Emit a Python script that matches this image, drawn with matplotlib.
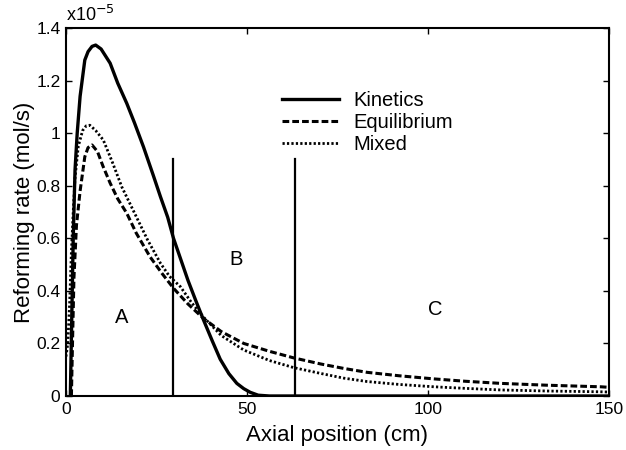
import numpy as np
import matplotlib.pyplot as plt
from matplotlib.ticker import FormatStrFormatter

plt.rcParams['font.family'] = ['Liberation Sans', 'DejaVu Sans']

# data (rates in units of 1e-5 mol/s)
kin_x = [1.2, 1.6, 2.0, 2.5, 3.1, 3.9, 5.2, 6.1, 7.2, 8.2, 9.7, 12.2, 14.3, 16.8, 18.9,
         21.4, 24.1, 26.1, 28.1, 29.7, 31.7, 33.7, 35.8, 38.0, 40.4, 42.6, 45.0, 47.2,
         49.1, 50.9, 53.1, 56.2, 61.3, 150.0]
kin_y = [0.0, 0.3, 0.6, 0.86, 1.0, 1.14, 1.278, 1.31, 1.33, 1.335, 1.32, 1.266, 1.19,
         1.113, 1.04, 0.948, 0.84, 0.758, 0.68, 0.60, 0.52, 0.44, 0.365, 0.289, 0.21,
         0.14, 0.085, 0.048, 0.028, 0.014, 0.003, 0.0, 0.0, 0.0]

eq_x = [1.5, 1.8, 2.2, 2.9, 3.9, 5.2, 6.1, 7.2, 8.7, 10.2, 12.2, 14.3, 16.8, 19.4,
        23.2, 26.6, 29.7, 33.7, 38.0, 42.9, 49.1, 56.2, 62.9, 70.3, 76.7, 83.2, 92.0,
        101.7, 110.4, 120.1, 132.9, 147.8, 150.0]
eq_y = [0.0, 0.2, 0.45, 0.65, 0.78, 0.91, 0.945, 0.955, 0.93, 0.875, 0.81, 0.75, 0.695,
        0.62, 0.53, 0.465, 0.41, 0.35, 0.295, 0.245, 0.2, 0.17, 0.145, 0.122, 0.105,
        0.09, 0.077, 0.065, 0.056, 0.048, 0.041, 0.035, 0.033]

mix_x = [0.0, 0.5, 1.0, 1.5, 2.0, 2.5, 3.4, 4.6, 5.6, 6.6, 8.2, 10.3, 12.8, 15.4, 19.5,
         22.5, 26.1, 28.6, 31.6, 34.7, 38.0, 42.9, 49.1, 56.2, 62.9, 70.3, 76.7, 83.2,
         92.0, 101.7, 110.4, 120.1, 132.9, 147.8, 150.0]
mix_y = [0.15, 0.2, 0.35, 0.55, 0.7, 0.83, 0.95, 1.01, 1.028, 1.03, 1.01, 0.974, 0.89,
         0.796, 0.68, 0.595, 0.505, 0.455, 0.416, 0.355, 0.30, 0.23, 0.175, 0.135,
         0.108, 0.086, 0.068, 0.055, 0.044, 0.035, 0.029, 0.023, 0.019, 0.016, 0.015]

# zone boundaries and labels
bound_x = [29.7, 63.4]
bound_top = 0.9
zone_names = ['A', 'B', 'C']
zone_x = [15.5, 47.1, 101.9]
zone_y = [0.30, 0.52, 0.33]

fig = plt.figure(figsize=(6.26, 4.5), dpi=100)
ax = fig.add_axes([0.1054, 0.12, 0.8674, 0.8178])

ax.plot(kin_x, kin_y, color='black', lw=2.4, ls='-', label='Kinetics')
ax.plot(eq_x, eq_y, color='black', lw=2.2, ls=(0, (2.2, 1.0)), label='Equilibrium')
ax.plot(mix_x, mix_y, color='black', lw=2.0, ls=(0, (0.8, 0.8)), label='Mixed')

for bx in bound_x:
    ax.plot([bx, bx], [0, bound_top], color='black', lw=1.6)

for name, zx, zy in zip(zone_names, zone_x, zone_y):
    ax.text(zx, zy, name, fontsize=14.5, ha='center', va='center')

ax.set_xlim(0, 150)
ax.set_ylim(0, 1.4)
ax.set_xticks([0, 50, 100, 150])
ax.set_yticks(np.arange(0, 1.41, 0.2))
ax.yaxis.set_major_formatter(FormatStrFormatter('%g'))
ax.tick_params(direction='in', top=True, right=True, length=4, width=1,
               labelsize=12.5, pad=4)
for sp in ax.spines.values():
    sp.set_linewidth(1.5)

ax.set_xlabel('Axial position (cm)', fontsize=16, labelpad=6)
ax.set_ylabel('Reforming rate (mol/s)', fontsize=16, labelpad=1)
ax.text(0.0, 1.008, r'x10$^{-5}$', transform=ax.transAxes, fontsize=13,
        ha='left', va='bottom')

ax.legend(loc='upper left', bbox_to_anchor=(0.3985, 0.83), frameon=False,
          fontsize=14.5, handlelength=2.8, handletextpad=0.75, labelspacing=0.15,
          borderpad=0, borderaxespad=0)

fig.savefig('out.png', dpi=100)
